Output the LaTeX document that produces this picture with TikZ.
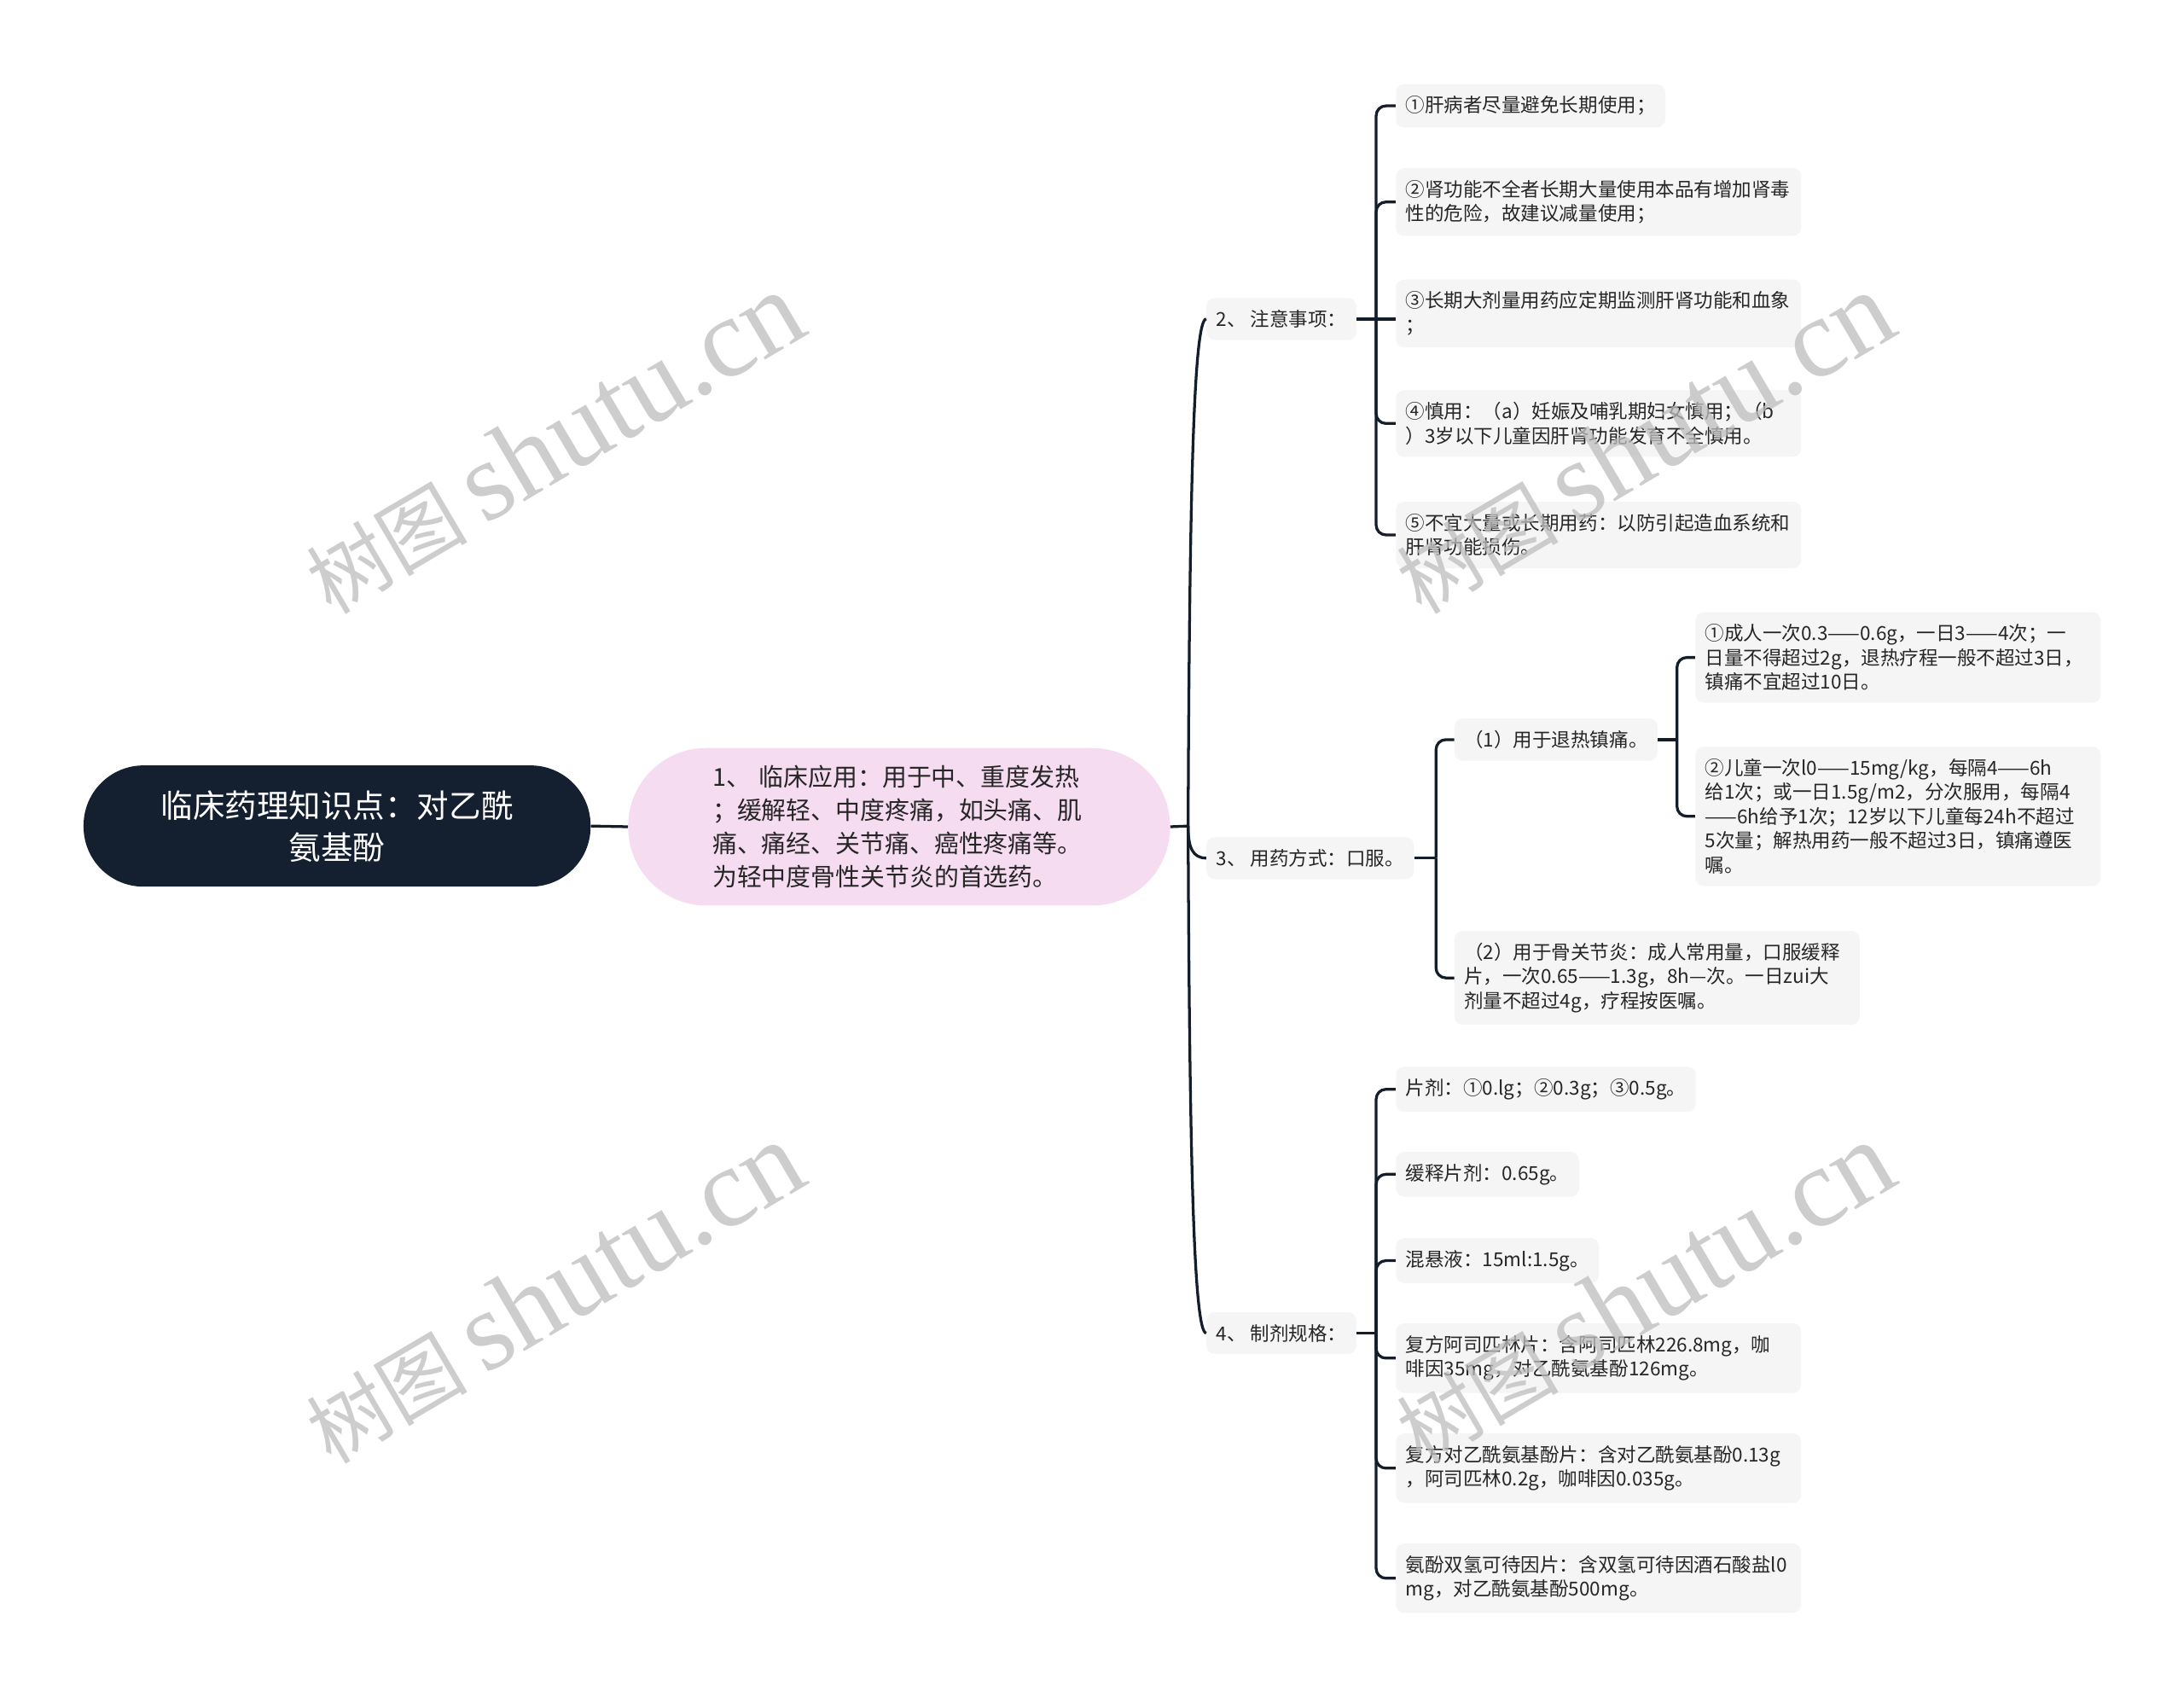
\documentclass[tikz,border=0pt]{standalone}
\usepackage{fontspec}
\setmainfont{Noto Sans CJK SC}
\newfontfamily\wmserif{Liberation Serif}
\definecolor{rootc}{HTML}{14202F}
\definecolor{pinkc}{HTML}{F6DCF0}
\definecolor{boxc}{HTML}{F5F5F5}
\definecolor{linec}{HTML}{141E2B}
\definecolor{txtc}{HTML}{262626}
\definecolor{wmc}{HTML}{BDBDBD}
\tikzset{
  conn/.style={draw=linec, line width=2pt},
  branch/.style={conn, rounded corners=7pt},
  leaf/.style={fill=boxc, rounded corners=6pt, inner xsep=7pt, inner ysep=8.6pt, anchor=west, align=left, text=txtc, font=\fontsize{13.8}{17.5}\selectfont},
  wide/.style={leaf, text width=277pt},
  wmark/.style={rotate=30.5, text=wmc, opacity=0.75, inner sep=0pt},
}
\begin{document}
\begin{tikzpicture}[x=1pt, y=-1pt]
\useasboundingbox[fill=white] (0,0) rectangle (1568,1218);

% root and first child
\node[fill=rootc, rounded corners=43pt, minimum width=364pt, minimum height=87pt, text=white, align=center, font=\fontsize{23}{30}\selectfont, inner sep=0pt] (root) at (242,593) {临床药理知识点：对乙酰\\氨基酚};
\node[fill=pinkc, rounded corners=56pt, minimum width=389pt, minimum height=113pt, text=txtc, align=left, text width=268pt, font=\fontsize{17.7}{24}\selectfont, inner sep=0pt] (n1) at (645.5,593.5) {1、\ 临床应用：用于中、重度发热\\；缓解轻、中度疼痛，如头痛、肌\\痛、痛经、关节痛、癌性疼痛等。\\为轻中度骨性关节炎的首选药。};

% level 2
\node[leaf] (n2) at (866,229) {2、\ 注意事项：};
\node[leaf] (n3) at (866,616) {3、\ 用药方式：口服。};
\node[leaf] (n4) at (866,957) {4、\ 制剂规格：};

% under 2
\node[leaf] (a1) at (1002,76) {①肝病者尽量避免长期使用；};
\node[wide] (a2) at (1002,145) {②肾功能不全者长期大量使用本品有增加肾毒\\性的危险，故建议减量使用；};
\node[wide] (a3) at (1002,225) {③长期大剂量用药应定期监测肝肾功能和血象\\；};
\node[wide] (a4) at (1002,304) {④慎用：（a）妊娠及哺乳期妇女慎用；（b\\）3岁以下儿童因肝肾功能发育不全慎用。};
\node[wide] (a5) at (1002,384) {⑤不宜大量或长期用药：以防引起造血系统和\\肝肾功能损伤。};

% under 3
\node[leaf] (b1) at (1044,531) {（1）用于退热镇痛。};
\node[wide] (b2) at (1044,702) {（2）用于骨关节炎：成人常用量，口服缓释\\片，一次0.65——1.3g，8h—次。一日zui大\\剂量不超过4g，疗程按医嘱。};
\node[wide] (c1) at (1217,472) {①成人一次0.3——0.6g，一日3——4次；一\\日量不得超过2g，退热疗程一般不超过3日，\\镇痛不宜超过10日。};
\node[wide] (c2) at (1217,586) {②儿童一次l0——15mg/kg，每隔4——6h\\给1次；或一日1.5g/m2，分次服用，每隔4\\——6h给予1次；12岁以下儿童每24h不超过\\5次量；解热用药一般不超过3日，镇痛遵医\\嘱。};

% under 4
\node[leaf] (d1) at (1002,782) {片剂：①0.lg；②0.3g；③0.5g。};
\node[leaf] (d2) at (1002,843) {缓释片剂：0.65g。};
\node[leaf] (d3) at (1002,905) {混悬液：15ml:1.5g。};
\node[wide] (d4) at (1002,975) {复方阿司匹林片：含阿司匹林226.8mg，咖\\啡因35mg，对乙酰氨基酚126mg。};
\node[wide] (d5) at (1002,1054) {复方对乙酰氨基酚片：含对乙酰氨基酚0.13g\\，阿司匹林0.2g，咖啡因0.035g。};
\node[wide] (d6) at (1002,1133) {氨酚双氢可待因片：含双氢可待因酒石酸盐l0\\mg，对乙酰氨基酚500mg。};

% junctions
\coordinate (j1) at (853,593);
\coordinate (j2) at (988,229);
\coordinate (j3) at (1031,616);
\coordinate (j31) at (1204,531);
\coordinate (j4) at (988,957);

% connectors
\draw[conn] (root.east) -- (n1.west);
\draw[conn] (n1.east) -- (j1);
\draw[conn] (j1) .. controls (854,350) and (857,229) .. (n2.west);
\draw[conn] (j1) .. controls (853,608) and (856,616) .. (n3.west);
\draw[conn] (j1) .. controls (854,830) and (857,957) .. (n4.west);

\draw[conn] (n2.east) -- (j2);
\draw[branch] (j2) |- (a1.west);
\draw[branch] (j2) |- (a2.west);
\draw[conn] (j2) -- (j2 -| a3.west);
\draw[branch] (j2) |- (a4.west);
\draw[branch] (j2) |- (a5.west);

\draw[conn] (n3.east) -- (j3);
\draw[branch] (j3) |- (b1.west);
\draw[branch] (j3) |- (b2.west);
\draw[conn] (b1.east) -- (j31);
\draw[branch] (j31) |- (c1.west);
\draw[branch] (j31) |- (c2.west);

\draw[conn] (n4.east) -- (j4);
\draw[branch] (j4) |- (d1.west);
\draw[branch] (j4) |- (d2.west);
\draw[branch] (j4) |- (d3.west);
\draw[branch] (j4) |- (d4.west);
\draw[branch] (j4) |- (d5.west);
\draw[branch] (j4) |- (d6.west);

% watermarks
\foreach \wx/\wy/\wn in {397/318/wm1, 1180/318/wm2, 397/928/wm3, 1180/928/wm4}{
  \node[wmark] (\wn) at (\wx,\wy) {{\fontsize{58}{58}\selectfont 树图}\hspace{12pt}{\wmserif\fontsize{81}{81}\selectfont shutu.cn}};
}
\end{tikzpicture}
\end{document}
